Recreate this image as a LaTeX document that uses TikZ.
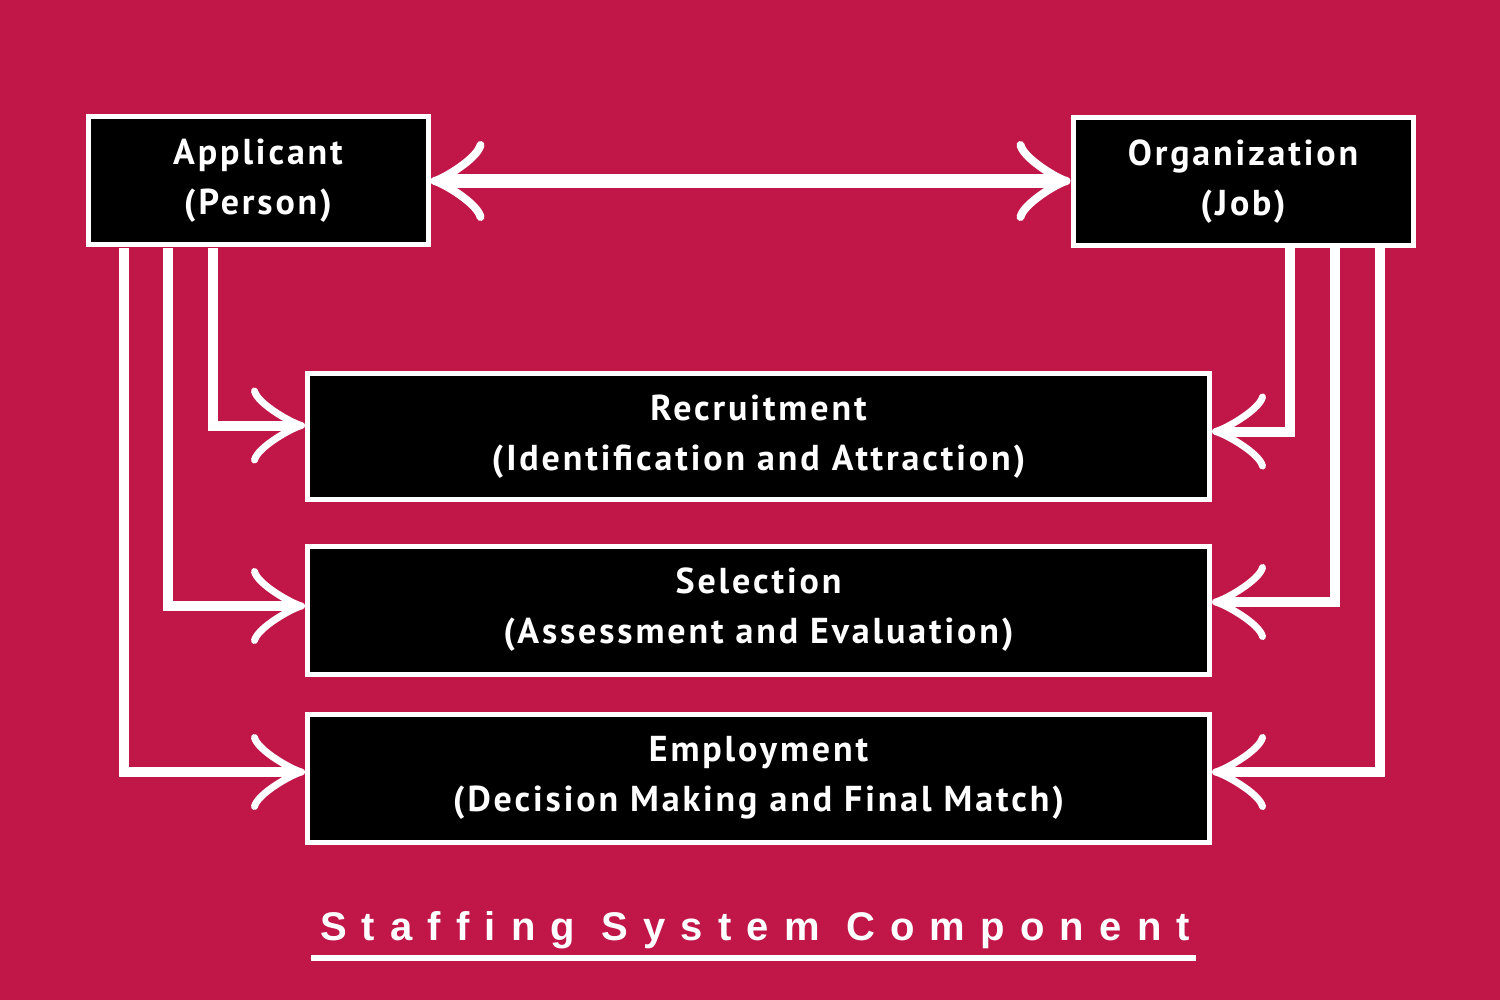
\documentclass[tikz,border=0pt]{standalone}
\usepackage{fontspec}
\setmainfont{PT Sans}
\newfontfamily\boxfont[LetterSpace=8]{PT Sans}
\newfontfamily\titlefont[LetterSpace=38]{Liberation Sans}
\usetikzlibrary{arrows.meta}
\definecolor{bg}{HTML}{C01648}
\tikzset{
  stbox/.style={draw=white,line width=2.5pt,fill=black,text=white,align=center,font=\boxfont\bfseries\fontsize{18}{25}\selectfont,inner sep=0pt},
  tipa/.tip={Classical TikZ Rightarrow[length=27pt,width=38pt,line width=3.5pt]},
  conn/.style={white,line width=5pt,-tipa},
}
\begin{document}
\begin{tikzpicture}[x=0.5pt,y=-0.5pt]
\fill[bg] (0,0) rectangle (1500,1000);
\useasboundingbox (0,0) rectangle (1500,1000);
\node[stbox,minimum width=170pt,minimum height=64pt] (app) at (258,181) {Applicant\\(Person)};
\node[stbox,minimum width=170pt,minimum height=64pt] (org) at (1243,182) {Organization\\(Job)};
\node[stbox,minimum width=451pt,minimum height=63pt] (rec) at (758.5,436.5) {Recruitment\\(Identification and Attraction)};
\node[stbox,minimum width=451pt,minimum height=64pt] (sel) at (758.5,610) {Selection\\(Assessment and Evaluation)};
\node[stbox,minimum width=451pt,minimum height=64pt] (emp) at (758.5,778) {Employment\\(Decision Making and Final Match)};
\draw[white,line width=7pt,{Classical TikZ Rightarrow[length=27pt,width=40pt,line width=4pt]}-{Classical TikZ Rightarrow[length=27pt,width=40pt,line width=4pt]}] (app.east) -- (org.west |- app.east);
\coordinate (l1) at (213,248); \coordinate (l2) at (168,248); \coordinate (l3) at (124,248);
\coordinate (r1) at (1290,248); \coordinate (r2) at (1335,248); \coordinate (r3) at (1380,248);
\draw[conn] (l1) |- ([yshift=5.5pt]rec.west);
\draw[conn] (l2) |- ([yshift=2pt]sel.west);
\draw[conn] (l3) |- ([yshift=3pt]emp.west);
\draw[conn] (r1) |- ([yshift=2.5pt]rec.east);
\draw[conn] (r2) |- ([yshift=4pt]sel.east);
\draw[conn] (r3) |- ([yshift=3pt]emp.east);
\node[text=white,font=\titlefont\bfseries\fontsize{20}{24}\selectfont] (title) at (755,930) {Staffing System Component};
\coordinate (u1) at (311,958); \coordinate (u2) at (1196,958);
\draw[white,line width=3pt] (u1) -- (u2);
\end{tikzpicture}
\end{document}
